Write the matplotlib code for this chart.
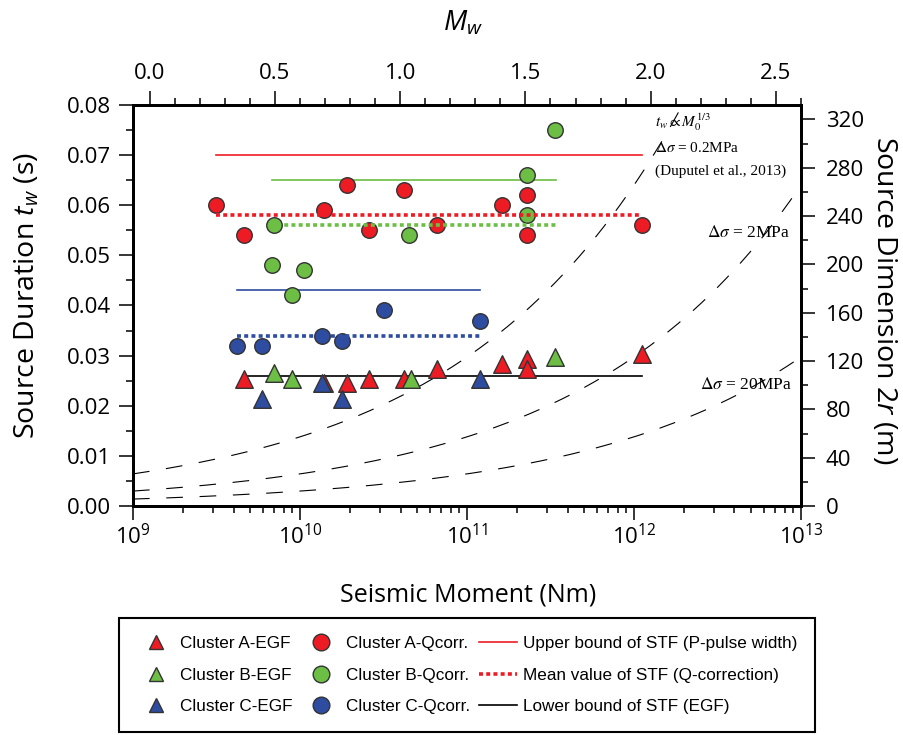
import numpy as np
import matplotlib
matplotlib.use("Agg")
import matplotlib.pyplot as plt
from matplotlib.lines import Line2D
from matplotlib.ticker import MultipleLocator, FormatStrFormatter, LogLocator, NullFormatter

plt.rcParams["font.family"] = ["Open Sans", "DejaVu Sans"]
plt.rcParams["mathtext.fontset"] = "custom"
plt.rcParams["mathtext.rm"] = "Open Sans"
plt.rcParams["mathtext.it"] = "Open Sans:italic"

# ---- data (seismic moment in Nm, source duration in s) ----
# cluster A (red)
a_m0_q = [3.14e9, 4.6e9, 1.40e10, 1.91e10, 2.59e10, 4.22e10, 6.61e10, 1.62e11, 2.29e11, 2.29e11, 1.12e12]
a_tw_q = [0.060, 0.054, 0.059, 0.064, 0.055, 0.063, 0.056, 0.060, 0.062, 0.054, 0.056]
a_m0_e = [4.6e9, 1.40e10, 1.91e10, 2.59e10, 4.2e10, 6.61e10, 1.62e11, 2.29e11, 2.29e11, 1.12e12]
a_tw_e = [0.0253, 0.0245, 0.0245, 0.0253, 0.0253, 0.0273, 0.0284, 0.0293, 0.0273, 0.0303]
# cluster B (green)
b_m0_q = [6.8e9, 7.0e9, 9.0e9, 1.06e10, 4.5e10, 2.29e11, 2.29e11, 3.37e11]
b_tw_q = [0.048, 0.056, 0.042, 0.047, 0.054, 0.066, 0.058, 0.075]
b_m0_e = [7.0e9, 9.0e9, 4.6e10, 3.37e11]
b_tw_e = [0.0266, 0.0253, 0.0253, 0.0298]
# cluster C (blue)
c_m0_q = [4.2e9, 5.9e9, 1.35e10, 1.78e10, 3.18e10, 1.19e11]
c_tw_q = [0.032, 0.032, 0.034, 0.033, 0.039, 0.037]
c_m0_e = [5.9e9, 1.35e10, 1.78e10, 1.19e11]
c_tw_e = [0.0213, 0.0245, 0.0213, 0.0253]

# STF bounds  (A, B, C)
upper_tw = [0.070, 0.065, 0.043]
upper_from = [3.15e9, 6.8e9, 4.2e9]
upper_to = [1.12e12, 3.4e11, 1.2e11]
mean_tw = [0.058, 0.056, 0.034]
mean_from = [3.15e9, 7.3e9, 4.2e9]
mean_to = [1.12e12, 3.4e11, 1.2e11]
lower_tw = 0.026
lower_range = [4.8e9, 1.12e12]

# constant stress drop scaling (Duputel et al., 2013)
stress_drops = [0.2, 2.0, 20.0]   # MPa
tw_ref = 0.0064                  # s at M0 = 1e9 Nm for 0.2 MPa

cols = ["#ED1C24", "#6CBE45", "#2E4DA0"]
edge = "#333333"

fig = plt.figure(figsize=(9.04, 7.35), dpi=100)
ax = fig.add_axes([0.1471, 0.3116, 0.7389, 0.5456])
ax.set_xscale("log")
ax.set_xlim(1e9, 1e13)
ax.set_ylim(0, 0.08)

# dashed scaling curves
m0c = np.logspace(9, 13, 500)
for sd in stress_drops:
    tw = tw_ref * (m0c / 1e9) ** (1 / 3) * (sd / 0.2) ** (-1 / 3)
    ax.plot(m0c, tw, color="black", lw=0.8, ls=(0, (15, 15)), zorder=1)

# bound lines
for i in range(3):
    ax.plot([upper_from[i], upper_to[i]], [upper_tw[i]] * 2, color=cols[i], lw=1.2, zorder=2)
ax.plot(lower_range, [lower_tw] * 2, color="black", lw=1.2, zorder=2)

# markers
for m, t, c in [(a_m0_q, a_tw_q, cols[0]), (b_m0_q, b_tw_q, cols[1]), (c_m0_q, c_tw_q, cols[2])]:
    ax.scatter(m, t, s=125, marker="o", color=c, edgecolors=edge, linewidths=1.0, zorder=3)
for m, t, c in [(a_m0_e, a_tw_e, cols[0]), (b_m0_e, b_tw_e, cols[1]), (c_m0_e, c_tw_e, cols[2])]:
    ax.scatter(m, t, s=160, marker="^", color=c, edgecolors=edge, linewidths=1.0, zorder=4)

# mean lines on top of circles
for i in range(3):
    ax.plot([mean_from[i], mean_to[i]], [mean_tw[i]] * 2, color=cols[i], lw=2.6,
            ls=(0, (1.1, 0.9)), zorder=5)

# annotations
serif = dict(family="Liberation Serif", math_fontfamily="stix", color="black", va="center")
ax.text(1.34e12, 0.0765, r"$t_w \propto M_0^{1/3}$", fontsize=11, **serif)
ax.text(1.34e12, 0.0715, r"$\Delta\sigma$ = 0.2MPa", fontsize=11, **serif)
ax.text(1.34e12, 0.0667, "(Duputel et al., 2013)", fontsize=11, **serif)
ax.text(2.75e12, 0.0545, r"$\Delta\sigma$ = 2MPa", fontsize=12.5, **serif)
ax.text(2.5e12, 0.0241, r"$\Delta\sigma$ = 20MPa", fontsize=12.5, **serif)

# ticks / spines
for sp in ax.spines.values():
    sp.set_linewidth(2.0)
ax.tick_params(which="major", direction="out", length=10, width=1.1, labelsize=16, pad=6)
ax.tick_params(which="minor", direction="out", length=5, width=1.1)
ax.tick_params(axis="x", which="major", pad=3)
ax.yaxis.set_major_locator(MultipleLocator(0.01))
ax.yaxis.set_minor_locator(MultipleLocator(0.005))
ax.yaxis.set_major_formatter(FormatStrFormatter("%.2f"))
ax.xaxis.set_major_locator(LogLocator(base=10, numticks=10))
ax.xaxis.set_minor_locator(LogLocator(base=10, subs=np.arange(2, 10), numticks=20))
ax.xaxis.set_minor_formatter(NullFormatter())


def m0_to_mw(m):
    return (2.0 / 3.0) * (np.log10(m) - 9.1)


# top axis: moment magnitude (linear in log M0)
top = ax.twiny()
top.set_xlim(m0_to_mw(1e9), m0_to_mw(1e13))
top.xaxis.set_major_locator(MultipleLocator(0.5))
top.xaxis.set_minor_locator(MultipleLocator(0.1))
top.xaxis.set_major_formatter(FormatStrFormatter("%.1f"))
top.tick_params(which="major", direction="out", length=10, width=1.1, labelsize=16, pad=5)
top.tick_params(which="minor", direction="out", length=5, width=1.1)

# right axis: source dimension
r_scale = 4150.0
right = ax.twinx()
right.set_ylim(0, 0.08 * r_scale)
right.yaxis.set_major_locator(MultipleLocator(40))
right.yaxis.set_minor_locator(MultipleLocator(20))
right.yaxis.set_major_formatter(FormatStrFormatter("%d"))
right.tick_params(which="major", direction="out", length=10, width=1.1, labelsize=16, pad=8)
right.tick_params(which="minor", direction="out", length=5, width=1.1)
for a in (top, right):
    for sp in a.spines.values():
        sp.set_linewidth(2.0)

# axis labels
fig.text(0.518, 0.1905, "Seismic Moment (Nm)", fontsize=18, ha="center", va="center")
fig.text(0.030, 0.598, r"Source Duration $t_w$ (s)", fontsize=20.5, ha="center", va="center", rotation=90)
fig.text(0.978, 0.592, r"Source Dimension 2$r$ (m)", fontsize=20.5, ha="center", va="center", rotation=270)
fig.text(0.512, 0.968, r"$M_w$", fontsize=20, ha="center", va="center")

# legend
h = [
    Line2D([], [], ls="none", marker="^", ms=10, mfc=cols[0], mec=edge, mew=1.0),
    Line2D([], [], ls="none", marker="^", ms=10, mfc=cols[1], mec=edge, mew=1.0),
    Line2D([], [], ls="none", marker="^", ms=10, mfc=cols[2], mec=edge, mew=1.0),
    Line2D([], [], ls="none", marker="o", ms=12, mfc=cols[0], mec=edge, mew=1.0),
    Line2D([], [], ls="none", marker="o", ms=12, mfc=cols[1], mec=edge, mew=1.0),
    Line2D([], [], ls="none", marker="o", ms=12, mfc=cols[2], mec=edge, mew=1.0),
    Line2D([], [], color=cols[0], lw=1.2),
    Line2D([], [], color=cols[0], lw=2.6, ls=(0, (1.1, 0.9))),
    Line2D([], [], color="black", lw=1.2),
]
labels = ["Cluster A-EGF", "Cluster B-EGF", "Cluster C-EGF",
          "Cluster A-Qcorr.", "Cluster B-Qcorr.", "Cluster C-Qcorr.",
          "Upper bound of STF (P-pulse width)", "Mean value of STF (Q-correction)",
          "Lower bound of STF (EGF)"]
leg = fig.legend(h, labels, ncol=3, loc="center", bbox_to_anchor=(0.5166, 0.0816),
                 prop={"family": "Liberation Sans", "size": 12.3},
                 frameon=True, fancybox=False, framealpha=1, edgecolor="black",
                 handlelength=2.2, handletextpad=0.35, columnspacing=0.55,
                 labelspacing=0.95, borderpad=1.05)
leg.get_frame().set_linewidth(1.5)

fig.savefig("out.png", dpi=100)
